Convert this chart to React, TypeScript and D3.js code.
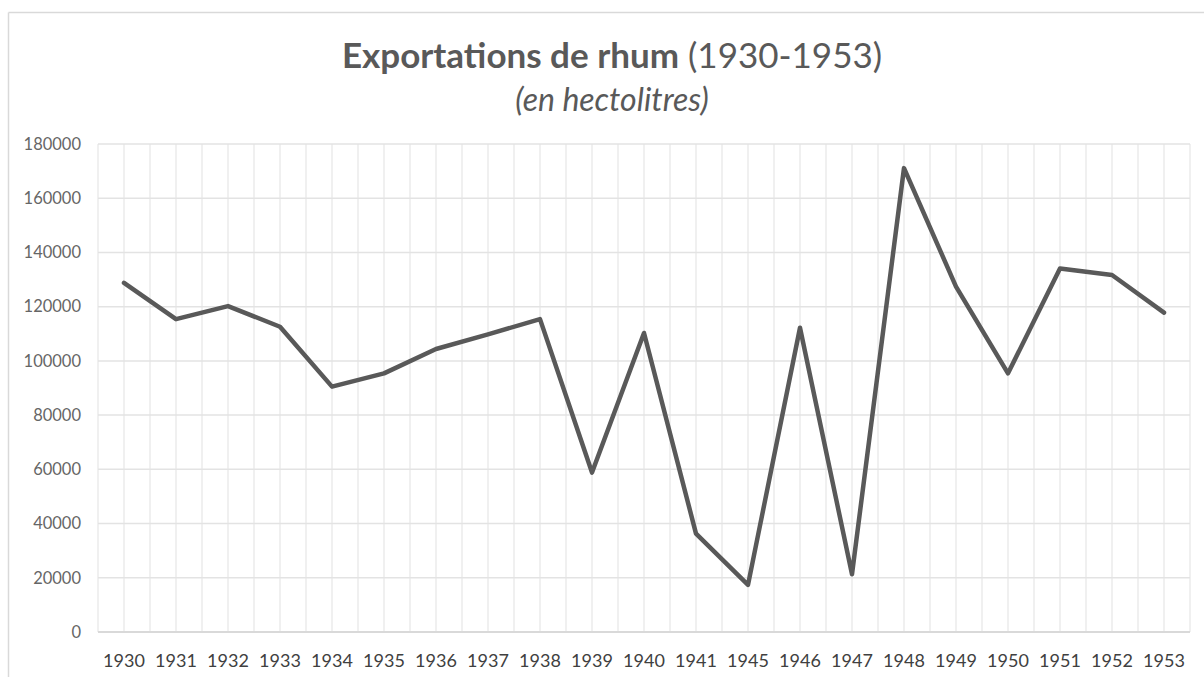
import React from "react";
import * as d3 from "d3";

const years = [
  "1930", "1931", "1932", "1933", "1934", "1935", "1936", "1937", "1938", "1939",
  "1940", "1941", "1945", "1946", "1947", "1948", "1949", "1950", "1951", "1952", "1953",
];
const exports = [
  128800, 115400, 120200, 112600, 90500, 95400, 104400, 109800, 115400, 58800,
  110300, 36300, 17400, 112200, 21300, 171100, 127400, 95400, 134100, 131700, 117800,
];
const yTicks = [0, 20000, 40000, 60000, 80000, 100000, 120000, 140000, 160000, 180000];

const W = 1204;
const H = 677;
const plot = { left: 98, right: 1190, top: 144, bottom: 632 };

export default function App() {
  const x = d3.scaleBand<string>().domain(years).range([plot.left, plot.right]).padding(0);
  const y = d3.scaleLinear().domain([0, 180000]).range([plot.bottom, plot.top]);
  const bw = x.bandwidth();

  const line = d3
    .line<number>()
    .x((_, i) => (x(years[i]) as number) + bw / 2)
    .y((d) => y(d));

  // vertical grid: band edges and band centres
  const vLines: number[] = [];
  years.forEach((yr) => {
    const x0 = x(yr) as number;
    vLines.push(x0, x0 + bw / 2);
  });
  vLines.push(plot.right);

  const font = "Lato, 'Open Sans', sans-serif";

  return (
    <svg
      width={W}
      height={H}
      style={{ position: "absolute", left: 0, top: 0, background: "#fff" }}
    >
      {/* chart frame */}
      <line x1={8.5} x2={W} y1={12.5} y2={12.5} stroke="#d9d9d9" strokeWidth={1.5} />
      <line x1={8.5} x2={8.5} y1={12.5} y2={H} stroke="#d9d9d9" strokeWidth={1.5} />

      <text
        x={612}
        y={68}
        textAnchor="middle"
        fontFamily={font}
        fontSize={35}
        fill="#595959"
      >
        <tspan fontWeight="bold">Exportations de rhum</tspan>
        <tspan> (1930-1953)</tspan>
      </text>
      <text
        x={612}
        y={111}
        textAnchor="middle"
        fontFamily={font}
        fontSize={32}
        fontStyle="italic"
        fill="#595959"
      >
        (en hectolitres)
      </text>

      {vLines.map((vx, i) => (
        <line
          key={"v" + i}
          x1={vx}
          x2={vx}
          y1={plot.top}
          y2={plot.bottom}
          stroke="#ebebeb"
          strokeWidth={1.5}
        />
      ))}
      {yTicks.map((t) => (
        <line
          key={"h" + t}
          x1={plot.left}
          x2={plot.right}
          y1={y(t)}
          y2={y(t)}
          stroke={t === 0 ? "#d9d9d9" : "#e3e3e3"}
          strokeWidth={t === 0 ? 2 : 1.5}
        />
      ))}

      {yTicks.map((t) => (
        <text
          key={"yt" + t}
          x={81}
          y={y(t)}
          dy="0.35em"
          textAnchor="end"
          fontFamily={font}
          fontSize={16.5}
          fill="#666"
        >
          {t}
        </text>
      ))}
      {years.map((yr) => (
        <text
          key={"xt" + yr}
          x={(x(yr) as number) + bw / 2}
          y={667}
          textAnchor="middle"
          fontFamily={font}
          fontSize={18}
          fill="#404040"
        >
          {yr}
        </text>
      ))}

      <path
        d={line(exports) || ""}
        fill="none"
        stroke="#595959"
        strokeWidth={4.5}
        strokeLinejoin="round"
        strokeLinecap="round"
      />
    </svg>
  );
}
